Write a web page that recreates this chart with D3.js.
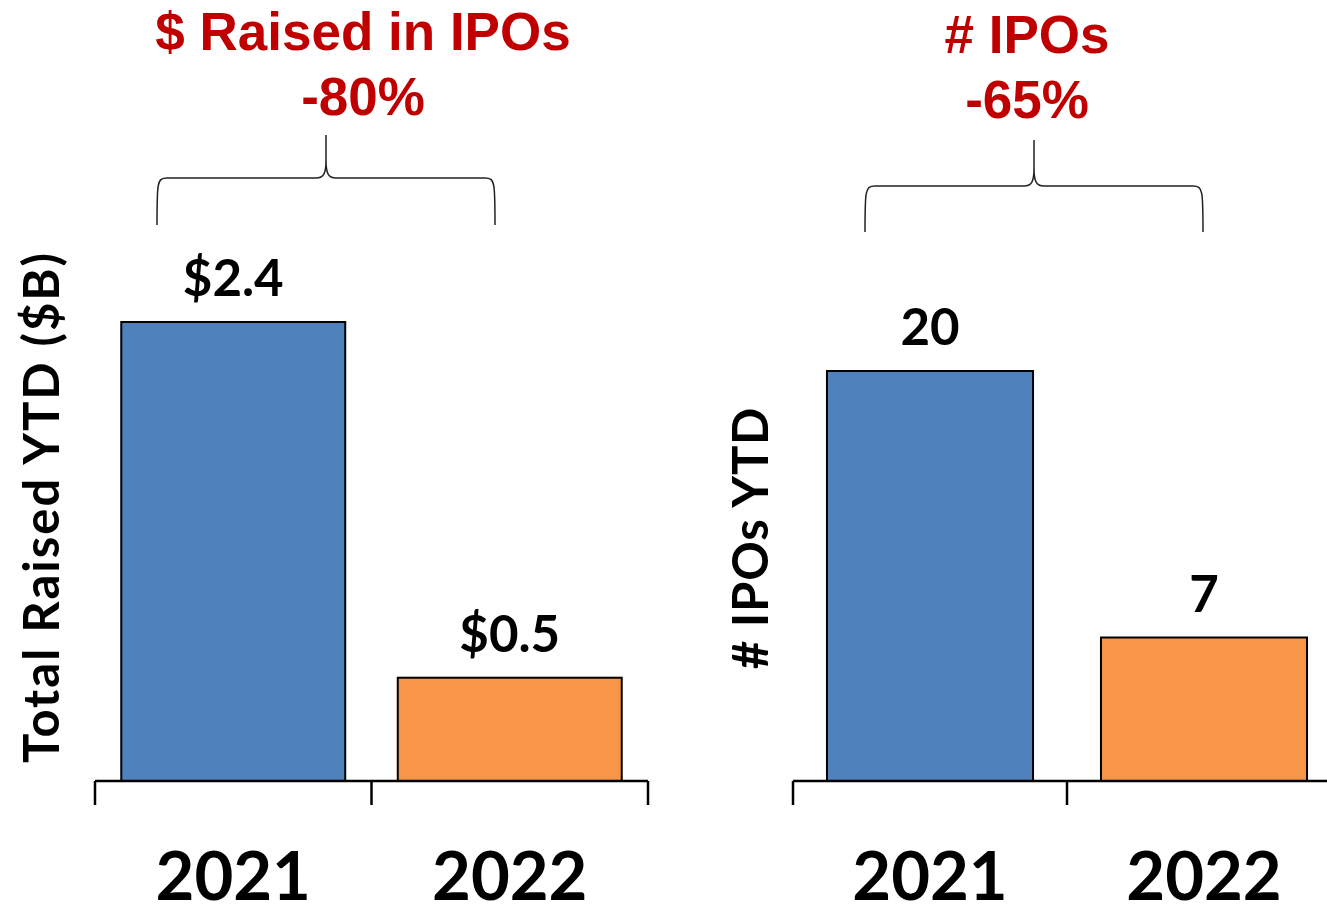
<!DOCTYPE html>
<html><head><meta charset="utf-8">
<script src="https://cdn.jsdelivr.net/npm/d3@7"></script>
<style>html,body{margin:0;padding:0;background:#fff;}</style>
</head><body>
<svg id="c" width="1327" height="909"></svg>
<script>
const years = ["2021", "2022"];
const raisedValues = [2.4, 0.54];      // $B raised YTD (bar heights)
const raisedLabels = ["$2.4", "$0.5"];
const ipoCounts = [20, 7];
const ipoLabels = ["20", "7"];
const barColors = ["#4F81BD", "#F79646"];
const panelTitles = [["$ Raised in IPOs", "-80%"], ["# IPOs", "-65%"]];
const yTitles = ["Total Raised YTD ($B)", "# IPOs YTD"];

const svg = d3.select("#c");
const red = "#C00000";
const baseY = 781;

const panels = [
  {values: raisedValues, labels: raisedLabels, x0: 95, x1: 648, pad: 0.19, yTop: 322,
   title: panelTitles[0], titleX: 363, titleY: 50, yTitle: yTitles[0], yTitleX: 42, yTitleY: 507, ls: 2,
   brace: {x0: 157, x1: 495, yBottom: 225, yMid: 178, yTip: 135}},
  {values: ipoCounts, labels: ipoLabels, x0: 793, x1: 1341, pad: 0.248, yTop: 371,
   title: panelTitles[1], titleX: 1027, titleY: 53, yTitle: yTitles[1], yTitleX: 751, yTitleY: 538, ls: 0.8,
   brace: {x0: 865, x1: 1203, yBottom: 232, yMid: 186, yTip: 140}}
];

panels.forEach(p => {
  const x = d3.scaleBand().domain(years).range([p.x0, p.x1])
    .paddingInner(p.pad).paddingOuter(p.pad / 2);
  const y = d3.scaleLinear().domain([0, d3.max(p.values)]).range([baseY, p.yTop]);
  const g = svg.append("g");

  g.selectAll("rect.bar").data(p.values).join("rect")
    .attr("class", "bar")
    .attr("x", (d, i) => x(years[i]))
    .attr("y", d => y(d))
    .attr("width", x.bandwidth())
    .attr("height", d => y(0) - y(d))
    .attr("fill", (d, i) => barColors[i])
    .attr("stroke", "#000").attr("stroke-width", 2);

  // value labels
  g.selectAll("text.val").data(p.values).join("text")
    .attr("class", "val")
    .attr("x", (d, i) => x(years[i]) + x.bandwidth() / 2)
    .attr("y", d => y(d) - 26)
    .attr("text-anchor", "middle")
    .attr("font-family", "Lato, sans-serif").attr("font-weight", 700)
    .attr("font-size", 51).attr("fill", "#000")
    .text((d, i) => p.labels[i]);

  // x axis baseline + separators
  g.append("line").attr("x1", p.x0).attr("x2", p.x1).attr("y1", y(0)).attr("y2", y(0))
    .attr("stroke", "#000").attr("stroke-width", 2.5);
  const ticks = d3.range(years.length + 1).map(i => p.x0 + i * x.step());
  g.selectAll("line.tk").data(ticks).join("line").attr("class", "tk")
    .attr("x1", d => d).attr("x2", d => d).attr("y1", y(0)).attr("y2", y(0) + 24)
    .attr("stroke", "#000").attr("stroke-width", 2.5);

  // year labels
  g.selectAll("text.yr").data(years).join("text").attr("class", "yr")
    .attr("x", d => x(d) + x.bandwidth() / 2)
    .attr("y", 900)
    .attr("text-anchor", "middle")
    .attr("font-family", "Lato, sans-serif").attr("font-weight", 700)
    .attr("font-size", 67).attr("fill", "#000")
    .text(d => d);

  // y title
  g.append("text")
    .attr("transform", `translate(${p.yTitleX},${p.yTitleY}) rotate(-90)`)
    .attr("dy", "0.35em")
    .attr("text-anchor", "middle")
    .attr("font-family", "Lato, sans-serif").attr("font-weight", 700)
    .attr("font-size", 49).attr("letter-spacing", p.ls).attr("fill", "#000")
    .text(p.yTitle);

  // titles
  p.title.forEach((t, i) => {
    g.append("text").attr("x", p.titleX).attr("y", p.titleY + i * 65)
      .attr("text-anchor", "middle")
      .attr("font-family", "'Liberation Sans', Arial, sans-serif").attr("font-weight", 700)
      .attr("font-size", 53).attr("fill", red)
      .text(t);
  });

  // curly brace
  const b = p.brace, xm = (b.x0 + b.x1) / 2, r = 10;
  const path = d3.path();
  path.moveTo(b.x0, b.yBottom);
  path.bezierCurveTo(b.x0, b.yMid + 5, b.x0, b.yMid, b.x0 + r, b.yMid);
  path.lineTo(xm - r, b.yMid);
  path.bezierCurveTo(xm - 2, b.yMid, xm, b.yMid - 5, xm, b.yMid - 18);
  path.lineTo(xm, b.yTip);
  path.moveTo(xm, b.yMid - 18);
  path.bezierCurveTo(xm, b.yMid - 5, xm + 2, b.yMid, xm + r, b.yMid);
  path.lineTo(b.x1 - r, b.yMid);
  path.bezierCurveTo(b.x1, b.yMid, b.x1, b.yMid + 5, b.x1, b.yBottom);
  g.append("path").attr("d", path.toString())
    .attr("fill", "none").attr("stroke", "#222").attr("stroke-width", 1.5);
});
</script>
</body></html>
